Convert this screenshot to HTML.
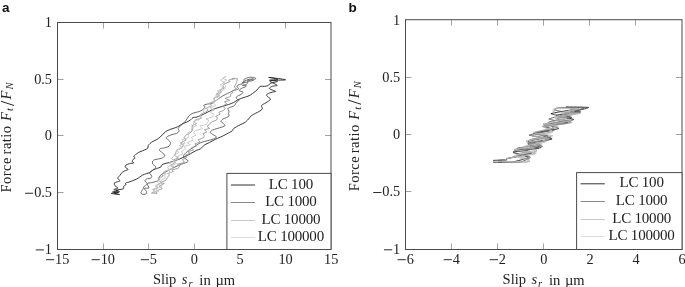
<!DOCTYPE html>
<html><head><meta charset="utf-8"><style>
html,body{margin:0;padding:0;background:#fff;}
svg{display:block;will-change:transform;}
.tl text{font-family:"Liberation Serif",serif;font-size:14.3px;fill:#222;}
.lab{font-family:"Liberation Serif",serif;fill:#222;}
.lg{font-family:"Liberation Serif",serif;font-size:15px;letter-spacing:-0.2px;fill:#222;}
.pl{font-family:"Liberation Sans",sans-serif;font-size:13.5px;font-weight:bold;fill:#111;}
</style></head><body>
<svg width="685" height="287" viewBox="0 0 685 287">
<text class="pl" x="2" y="11.5">a</text>
<text class="pl" x="348.5" y="12.2">b</text>
<path d="M119.5 194.6 C118.1 194.4 111.4 193.7 111.2 193.4 C111.0 193.1 118.3 192.8 118.5 192.6 C118.7 192.4 112.5 192.3 112.5 192.0 C112.5 191.7 118.0 191.2 118.2 190.8 C118.4 190.4 113.8 190.0 113.8 189.6 C113.8 189.2 117.7 188.8 117.9 188.2 C118.1 187.5 115.6 186.5 115.0 185.7 C114.4 184.8 114.1 183.7 114.3 183.1 C114.5 182.5 115.5 182.5 116.4 182.1 C117.4 181.7 119.8 181.3 120.0 180.7 C120.2 180.1 117.7 179.2 117.7 178.3 C117.7 177.4 119.0 176.5 119.8 175.5 C120.6 174.5 121.6 172.9 122.5 172.1 C123.4 171.3 124.4 171.2 125.3 170.7 C126.2 170.2 128.1 169.9 128.1 169.3 C128.1 168.7 125.6 167.9 125.3 167.2 C125.0 166.5 125.3 165.7 126.0 165.1 C126.7 164.5 128.2 164.0 129.5 163.7 C130.8 163.3 133.2 163.3 133.7 163.0 C134.2 162.7 132.4 162.2 132.3 161.6 C132.2 161.0 132.5 160.1 133.0 159.5 C133.5 158.9 135.0 158.6 135.1 158.1 C135.2 157.6 133.7 157.2 133.7 156.7 C133.7 156.2 134.5 155.9 135.1 155.3 C135.7 154.7 136.4 153.8 137.2 153.2 C138.0 152.6 138.7 152.4 140.0 151.8 C141.3 151.2 143.5 150.4 144.8 149.8 C146.1 149.2 147.0 149.1 147.6 148.4 C148.2 147.7 147.9 146.4 148.3 145.6 C148.7 144.8 149.2 144.2 150.0 143.5 C150.8 142.8 151.8 142.1 153.0 141.4 C154.2 140.7 155.9 140.0 157.1 139.3 C158.3 138.6 159.0 138.1 160.2 137.0 C161.4 135.9 162.9 134.1 164.1 133.0 C165.3 131.9 165.9 131.4 167.2 130.7 C168.5 130.0 170.6 129.3 172.0 128.8 C173.4 128.3 174.7 128.0 175.9 127.5 C177.1 127.0 177.8 126.7 179.0 126.0 C180.2 125.3 181.6 124.2 182.9 123.6 C184.2 122.9 185.5 122.8 186.8 122.1 C188.1 121.4 189.8 120.5 190.8 119.7 C191.9 118.9 192.2 117.8 193.1 117.4 C193.9 117.0 194.5 117.7 195.9 117.3 C197.3 116.9 199.6 116.0 201.5 115.2 C203.4 114.4 205.2 113.3 207.1 112.4 C208.9 111.5 210.8 110.4 212.6 109.6 C214.4 108.8 216.2 108.3 218.0 107.7 C219.8 107.1 221.4 106.6 223.2 106.1 C224.9 105.6 226.8 105.1 228.5 104.5 C230.2 103.9 232.1 103.3 233.7 102.5 C235.3 101.7 236.3 100.6 237.9 99.8 C239.5 99.0 241.4 98.3 243.1 97.7 C244.8 97.1 246.4 96.9 248.0 96.2 C249.6 95.5 251.0 94.6 252.6 93.5 C254.2 92.4 256.1 90.8 257.3 89.6 C258.5 88.4 259.1 87.0 260.0 86.5 C260.9 86.0 261.4 86.3 262.4 86.3 C263.4 86.2 265.0 86.5 266.2 86.2 C267.4 85.9 268.5 85.1 269.3 84.6 C270.1 84.1 269.5 83.6 270.9 83.1 C272.3 82.5 277.7 81.8 277.5 81.3 C277.3 80.8 269.4 80.5 269.5 80.2 C269.6 79.9 278.1 79.8 278.0 79.3 C277.9 78.8 267.6 77.3 268.8 77.4 C270.1 77.5 284.2 79.2 285.5 79.7 C286.8 80.2 279.2 80.0 276.6 80.3 C274.0 80.5 269.9 80.4 270.0 81.2 C270.1 82.0 276.8 84.5 277.2 85.3 C277.6 86.1 273.8 85.7 272.5 86.2 C271.2 86.7 269.4 87.7 269.3 88.3 C269.2 88.9 270.8 89.4 271.9 89.9 C272.9 90.4 275.8 91.0 275.6 91.4 C275.4 91.8 272.4 92.0 270.9 92.5 C269.4 93.0 267.2 93.9 266.7 94.6 C266.2 95.3 267.1 95.9 267.7 96.7 C268.3 97.5 270.7 98.3 270.4 99.3 C270.1 100.3 267.4 101.8 265.9 102.8 C264.4 103.8 262.2 104.5 261.6 105.5 C261.0 106.5 262.8 107.9 262.4 108.9 C261.9 109.9 260.0 110.9 258.9 111.6 C257.8 112.3 256.8 112.6 255.5 113.3 C254.2 114.0 252.1 115.1 251.1 115.9 C250.1 116.7 250.4 117.0 249.4 118.0 C248.4 119.0 246.9 121.1 245.3 122.2 C243.8 123.3 242.0 123.8 240.1 124.8 C238.2 125.8 235.0 127.5 233.7 128.5 C232.4 129.5 233.3 130.0 232.1 130.9 C230.9 131.8 228.6 133.0 226.7 134.0 C224.8 135.0 222.4 136.2 220.4 137.1 C218.4 138.0 216.7 138.6 214.9 139.5 C213.1 140.4 211.1 141.7 209.4 142.6 C207.7 143.5 206.2 143.8 204.7 144.8 C203.2 145.8 201.8 147.9 200.5 148.8 C199.2 149.7 198.2 149.6 196.9 150.2 C195.6 150.8 194.5 151.4 192.9 152.3 C191.3 153.2 189.2 154.5 187.4 155.4 C185.6 156.3 183.9 157.2 182.0 158.0 C180.1 158.8 177.8 159.7 175.7 160.4 C173.6 161.2 171.2 162.0 169.4 162.5 C167.6 163.0 166.4 163.1 165.1 163.5 C163.8 163.9 162.3 164.6 161.6 165.2 C160.9 165.8 161.7 166.3 160.9 166.9 C160.1 167.5 157.9 168.1 156.6 168.6 C155.3 169.1 154.2 169.3 153.0 170.0 C151.8 170.7 150.5 172.0 149.4 172.6 C148.3 173.2 147.8 173.2 146.6 173.6 C145.4 174.0 143.7 174.4 142.3 175.2 C140.9 176.0 139.2 177.6 138.0 178.3 C136.8 179.1 136.3 179.1 135.0 179.7 C133.7 180.3 131.6 181.1 130.0 181.7 C128.4 182.3 126.4 182.5 125.7 183.1 C125.0 183.7 126.1 184.4 125.7 185.0 C125.3 185.6 123.9 185.8 123.6 186.4 C123.2 187.0 124.2 188.1 123.6 188.6 C123.0 189.1 121.3 189.2 120.0 189.5 C118.7 189.8 116.1 189.9 116.0 190.3 C115.9 190.7 119.8 191.4 119.5 191.8 C119.2 192.2 114.0 192.3 114.0 192.8 C114.0 193.3 118.6 194.3 119.5 194.6" fill="none" stroke="#222" stroke-width="0.9" stroke-linejoin="round"/>
<path d="M142.3 194.3 C142.1 194.1 140.9 193.7 140.9 192.9 C140.9 192.1 142.2 190.4 142.6 189.7 C143.0 189.0 143.0 189.1 143.2 188.6 C143.4 188.1 143.3 187.3 143.7 186.8 C144.1 186.3 144.9 186.2 145.5 185.7 C146.1 185.2 147.1 184.6 147.2 184.0 C147.3 183.4 146.4 182.8 146.0 182.2 C145.6 181.6 144.7 181.1 144.9 180.5 C145.1 179.9 146.2 179.2 147.2 178.8 C148.1 178.4 149.8 178.6 150.6 178.2 C151.4 177.8 151.9 177.3 151.8 176.5 C151.7 175.7 150.5 174.2 150.1 173.6 C149.7 173.0 148.9 173.5 149.4 172.9 C149.9 172.3 151.9 171.0 153.0 170.0 C154.1 169.0 155.9 168.0 155.9 167.1 C155.9 166.2 153.6 165.2 153.0 164.4 C152.4 163.6 152.3 162.7 152.4 162.0 C152.5 161.3 152.9 160.7 153.5 160.3 C154.1 159.9 154.7 159.7 156.0 159.4 C157.3 159.1 159.8 158.9 161.3 158.3 C162.8 157.7 164.7 156.6 164.8 155.7 C165.0 154.8 163.1 153.5 162.2 152.6 C161.3 151.7 159.9 151.2 159.6 150.5 C159.3 149.8 159.6 149.0 160.5 148.6 C161.4 148.2 163.4 148.2 164.8 147.8 C166.2 147.4 168.2 147.0 169.2 146.1 C170.1 145.2 170.7 143.6 170.5 142.6 C170.3 141.6 169.1 140.8 168.3 140.0 C167.6 139.2 166.1 138.6 166.0 138.0 C165.9 137.4 167.0 136.8 168.0 136.2 C169.0 135.6 170.4 135.1 172.0 134.6 C173.6 134.1 176.2 133.7 177.4 133.0 C178.6 132.3 178.9 131.5 179.0 130.7 C179.1 129.9 177.8 129.2 178.2 128.3 C178.6 127.4 180.3 126.2 181.5 125.0 C182.7 123.8 184.3 122.5 185.5 121.0 C186.7 119.5 187.6 117.2 188.9 115.9 C190.2 114.6 191.5 113.8 193.1 113.1 C194.7 112.4 197.1 112.3 198.7 111.7 C200.3 111.1 201.8 110.4 202.9 109.6 C204.0 108.8 204.9 107.5 205.0 106.8 C205.1 106.1 203.2 106.0 203.6 105.5 C203.9 105.0 205.7 104.4 207.1 104.1 C208.5 103.8 210.6 103.9 211.9 103.4 C213.2 103.0 214.0 102.1 215.0 101.4 C216.0 100.7 216.8 99.9 218.1 99.0 C219.4 98.1 221.2 96.8 222.8 95.9 C224.4 95.0 226.2 94.2 227.5 93.5 C228.8 92.8 229.6 92.5 230.7 92.0 C231.8 91.5 232.5 90.9 233.8 90.4 C235.1 89.9 238.0 89.5 238.5 88.8 C239.0 88.1 237.0 87.2 237.0 86.5 C237.0 85.8 237.5 85.4 238.5 84.9 C239.5 84.4 242.3 84.1 243.2 83.3 C244.1 82.5 243.8 80.9 244.0 80.2 C244.2 79.5 243.3 79.8 244.3 79.3 C245.3 78.8 247.9 77.3 249.8 77.2 C251.7 77.1 255.5 77.8 255.8 78.4 C256.2 79.0 253.4 80.2 251.9 80.7 C250.4 81.2 246.8 81.4 247.1 81.1 C247.4 80.8 253.3 79.2 253.5 79.0 C253.7 78.8 249.9 79.0 248.0 79.6 C246.1 80.2 242.2 82.4 242.2 82.8 C242.2 83.2 247.1 81.9 247.8 82.1 C248.5 82.3 247.3 83.7 246.4 84.2 C245.5 84.8 242.5 85.1 242.5 85.4 C242.5 85.7 246.0 85.5 246.4 85.8 C246.8 86.1 245.9 86.5 245.0 87.0 C244.1 87.5 241.7 88.1 240.8 88.7 C239.9 89.3 239.1 90.3 239.4 90.8 C239.8 91.3 242.6 91.4 242.9 91.9 C243.2 92.5 242.2 93.5 241.5 94.1 C240.8 94.7 239.3 95.2 238.4 95.7 C237.5 96.2 236.5 96.6 236.3 97.2 C236.1 97.8 236.9 98.8 237.3 99.3 C237.7 99.8 239.1 99.9 238.9 100.4 C238.7 100.9 236.9 101.8 236.3 102.5 C235.7 103.2 235.6 103.9 235.2 104.5 C234.8 105.1 234.5 105.6 233.7 106.1 C232.9 106.5 231.5 106.8 230.5 107.2 C229.5 107.6 228.2 108.0 227.9 108.7 C227.7 109.4 228.9 110.5 229.0 111.3 C229.1 112.1 228.5 112.6 228.5 113.4 C228.5 114.2 229.3 115.3 229.0 116.0 C228.7 116.7 227.5 117.1 226.4 117.6 C225.3 118.1 223.6 118.6 222.7 119.2 C221.8 119.8 221.1 120.7 221.1 121.3 C221.1 121.9 222.0 122.3 222.7 123.0 C223.4 123.7 225.2 124.7 225.1 125.4 C225.0 126.1 223.3 126.5 222.0 127.0 C220.7 127.5 218.8 128.0 217.2 128.5 C215.6 129.0 213.7 129.4 212.5 130.1 C211.3 130.8 210.1 131.6 210.2 132.4 C210.3 133.2 212.2 134.0 213.3 134.8 C214.4 135.6 216.7 136.3 216.5 137.1 C216.3 137.9 213.4 138.9 212.0 139.5 C210.6 140.1 209.7 140.1 207.9 140.6 C206.1 141.1 203.1 141.7 201.1 142.5 C199.1 143.3 197.8 144.3 196.0 145.5 C194.2 146.7 191.8 148.2 190.0 149.5 C188.2 150.8 186.2 152.2 185.1 153.5 C184.0 154.8 183.0 155.9 183.5 157.2 C184.0 158.5 188.5 160.0 188.2 161.2 C187.9 162.4 183.5 163.3 181.5 164.2 C179.5 165.1 177.8 165.7 176.0 166.5 C174.2 167.3 172.8 168.1 171.0 169.0 C169.2 169.9 167.2 171.0 165.5 172.0 C163.8 173.0 162.1 173.9 161.0 174.8 C159.9 175.7 159.3 176.7 159.0 177.5 C158.7 178.3 159.8 178.9 159.2 179.6 C158.6 180.3 157.0 181.1 155.7 181.6 C154.4 182.1 152.9 182.2 151.5 182.6 C150.1 182.9 147.7 182.8 147.3 183.7 C146.9 184.6 149.4 187.1 148.9 187.9 C148.4 188.7 144.6 187.8 144.2 188.4 C143.8 189.0 146.2 190.6 146.5 191.5 C146.8 192.4 146.6 193.5 145.9 194.0 C145.2 194.5 142.9 194.2 142.3 194.3" fill="none" stroke="#5a5a5a" stroke-width="0.9" stroke-linejoin="round"/>
<path d="M151.5 193.0 L154.6 191.2 L152.8 189.4 L157.6 187.7 L156.3 185.4 L161.4 182.5 L158.3 180.2 L158.3 177.8 L163.0 176.3 L161.8 174.1 L163.2 173.2 L164.8 171.4 L171.3 168.9 L173.5 166.6 L170.9 165.1 L175.7 162.1 L173.3 159.9 L178.0 157.9 L174.5 155.4 L175.9 152.2 L176.4 150.4 L182.4 147.2 L183.5 144.8 L180.3 143.0 L186.3 139.9 L183.8 137.9 L185.5 135.4 L190.2 132.8 L192.3 130.7 L192.9 127.9 L191.9 125.7 L196.7 123.7 L193.9 121.8 L195.5 119.9 L201.6 118.1 L199.4 116.1 L201.1 113.9 L206.1 111.8 L208.2 110.0 L206.3 108.1 L211.7 105.8 L209.3 103.3 L214.6 101.2 L213.9 98.1 L219.6 95.8 L216.5 93.8 L221.6 91.9 L219.9 89.9 L224.1 88.1 L222.9 85.7 L224.5 83.7 L230.2 81.6 L228.4 80.3 L234.4 78.1 L231.9 79.1 L237.4 78.6 L236.6 82.3 L235.8 84.1 L234.2 87.0 L236.5 88.6 L232.7 90.7 L232.7 92.9 L230.8 94.0 L230.5 96.5 L225.2 98.4 L229.7 100.3 L224.4 101.8 L226.6 103.6 L222.5 106.3 L225.2 108.2 L223.8 110.4 L218.9 112.2 L220.2 114.2 L215.6 116.4 L217.6 117.8 L216.2 120.3 L211.3 122.0 L209.6 124.3 L207.0 126.3 L209.7 128.4 L204.5 129.8 L206.8 132.0 L202.9 133.6 L204.3 135.6 L203.7 137.6 L198.1 139.8 L200.1 142.1 L194.9 143.8 L196.6 146.2 L191.8 147.7 L193.5 150.0 L187.7 151.6 L190.2 153.2 L185.3 155.2 L186.8 157.4 L182.5 159.6 L184.5 162.4 L177.5 164.3 L179.8 165.6 L178.1 168.4 L171.9 169.9 L173.3 171.4 L168.7 173.3 L169.2 175.1 L167.4 177.5 L165.8 180.3 L160.6 182.5 L164.3 183.5 L159.1 186.2 L162.3 188.6 L157.4 190.5 L155.5 191.4 L157.0 193.3 L151.5 193.0" fill="none" stroke="#9a9a9a" stroke-width="0.9" stroke-linejoin="round"/>
<path d="M153.0 194.0 L155.6 191.7 L153.8 190.0 L157.2 188.0 L155.2 185.6 L159.8 184.3 L157.6 182.1 L158.5 179.4 L160.8 177.4 L165.3 174.1 L163.6 171.7 L169.4 169.5 L167.5 166.9 L172.1 164.9 L169.2 163.0 L174.8 161.2 L171.8 159.0 L172.8 156.8 L175.0 154.7 L178.8 152.5 L176.6 150.5 L182.4 147.8 L179.3 145.4 L185.1 143.1 L181.9 139.6 L187.8 138.2 L188.9 135.2 L187.9 133.0 L191.9 130.2 L191.0 128.1 L196.4 125.6 L193.4 124.1 L194.2 121.1 L199.7 119.4 L201.0 116.7 L199.9 115.0 L204.5 112.5 L203.0 111.1 L204.2 109.0 L210.1 106.6 L212.0 105.4 L209.6 102.9 L215.1 100.6 L212.9 98.7 L216.8 96.5 L215.7 94.9 L220.4 93.1 L217.5 90.8 L221.3 89.3 L222.8 87.0 L220.2 84.8 L224.4 82.7 L220.4 80.0 L226.2 76.3 L222.8 78.4 L226.9 80.1 L223.1 82.5 L225.6 85.7 L225.1 88.4 L223.4 90.2 L218.1 91.9 L220.1 93.8 L215.6 96.5 L219.0 98.5 L217.1 100.1 L212.9 102.5 L215.8 105.5 L210.1 107.9 L214.3 110.1 L209.9 111.8 L213.5 114.2 L212.7 116.9 L206.1 119.0 L208.6 120.2 L208.2 121.9 L206.4 124.5 L199.8 126.0 L202.4 128.7 L195.4 130.7 L193.6 132.7 L195.9 135.1 L191.2 137.6 L193.5 139.9 L187.3 142.7 L190.2 144.7 L184.1 146.5 L185.7 148.8 L181.3 151.6 L183.0 153.8 L177.4 156.6 L179.6 158.4 L173.7 161.0 L176.6 163.7 L170.6 165.7 L173.2 168.0 L167.8 170.4 L170.8 172.4 L165.0 174.4 L164.4 175.6 L165.5 177.7 L160.9 180.3 L160.7 182.2 L162.3 184.4 L161.4 186.5 L157.1 188.5 L156.7 189.9 L158.6 191.7 L152.8 192.5 L153.0 194.0" fill="none" stroke="#c4c4c4" stroke-width="0.9" stroke-linejoin="round"/>
<path d="M493.0 160.4 C494.1 160.3 505.4 160.0 506.6 159.8 C507.8 159.6 505.1 159.1 507.2 158.5 C509.3 157.9 531.2 153.7 532.0 152.9 C532.9 152.0 516.4 149.0 517.1 148.3 C517.7 147.7 539.0 145.4 540.1 144.7 C541.1 144.0 529.4 140.5 530.1 139.8 C530.8 139.1 547.6 137.0 548.0 136.4 C548.4 135.9 534.6 133.7 535.0 133.0 C535.4 132.3 551.9 128.9 553.0 128.0 C554.1 127.1 546.9 123.1 548.5 122.2 C550.0 121.3 571.3 118.0 571.5 117.3 C571.7 116.6 550.6 114.4 550.9 113.7 C551.2 113.0 573.8 109.7 575.1 109.1 C576.3 108.6 564.9 107.1 566.0 107.0 C567.1 106.9 587.9 107.1 588.6 107.5 C589.3 107.9 575.3 111.1 574.6 111.5 C573.9 111.9 581.9 111.7 580.4 112.0 C578.8 112.3 556.5 114.6 556.0 115.2 C555.4 115.9 574.3 118.8 573.7 119.6 C573.1 120.3 550.1 123.4 548.8 124.1 C547.6 124.9 559.7 127.9 558.5 128.6 C557.3 129.4 535.2 132.2 534.6 133.0 C534.1 133.9 552.6 137.9 552.1 138.9 C551.5 139.8 529.3 143.5 528.1 144.3 C527.0 145.1 540.0 147.6 538.8 148.3 C537.6 148.9 514.1 151.4 513.2 152.2 C512.3 153.0 528.5 156.6 528.4 157.4 C528.3 158.2 515.0 161.6 512.0 162.0 C509.0 162.4 494.6 162.2 493.0 162.2" fill="none" stroke="#222" stroke-width="0.9" stroke-linejoin="round"/>
<path d="M498.0 160.4 C498.7 160.3 505.8 160.0 506.6 159.8 C507.4 159.6 505.8 159.0 507.6 158.5 C509.5 158.0 528.6 154.2 529.1 153.6 C529.7 152.9 513.6 151.0 514.7 150.4 C515.8 149.8 541.3 147.2 542.4 146.5 C543.5 145.7 527.2 142.3 527.9 141.5 C528.6 140.7 550.7 137.5 551.1 136.8 C551.6 136.1 532.8 133.9 533.2 133.3 C533.5 132.7 554.4 130.3 555.2 129.7 C556.0 129.1 541.6 126.9 542.6 126.4 C543.7 125.8 567.5 123.6 568.0 123.0 C568.5 122.4 548.6 119.7 548.8 119.0 C548.9 118.2 569.2 114.3 569.8 113.5 C570.4 112.8 556.4 110.7 555.5 110.2 C554.7 109.7 557.6 107.7 560.0 107.5 C562.4 107.3 583.2 107.6 584.0 108.0 C584.8 108.4 570.5 111.6 570.0 112.0 C569.5 112.4 579.5 112.0 578.5 112.5 C577.4 113.0 558.1 117.5 557.4 118.3 C556.7 119.1 571.6 121.2 570.5 121.8 C569.4 122.3 545.7 124.6 544.2 125.3 C542.7 126.0 554.0 129.3 552.8 130.1 C551.5 130.9 529.3 134.4 529.2 135.1 C529.0 135.9 551.6 138.1 551.5 138.8 C551.4 139.4 528.5 142.2 527.7 143.0 C526.8 143.7 542.2 147.0 541.0 147.7 C539.8 148.5 513.9 151.2 513.0 151.9 C512.1 152.7 529.8 156.2 530.4 157.0 C531.0 157.9 522.7 161.6 520.0 162.0 C517.3 162.4 499.8 162.2 498.0 162.2" fill="none" stroke="#5a5a5a" stroke-width="0.9" stroke-linejoin="round"/>
<path d="M502.0 160.4 C502.3 160.3 505.5 160.0 506.0 159.8 C506.5 159.6 505.3 159.0 507.8 158.5 C510.2 158.0 535.1 154.2 535.6 153.5 C536.2 152.8 514.2 150.5 514.3 149.9 C514.4 149.3 535.8 147.0 536.7 146.3 C537.7 145.6 525.2 142.0 526.1 141.2 C526.9 140.4 546.2 137.3 546.9 136.6 C547.6 135.9 533.2 133.4 534.2 132.6 C535.2 131.9 557.6 127.9 558.3 127.2 C559.0 126.5 542.0 124.6 543.1 124.0 C544.2 123.5 570.9 121.2 571.8 120.5 C572.8 119.8 556.0 116.2 554.7 115.2 C553.4 114.1 554.0 108.6 556.0 108.0 C558.0 107.4 578.2 108.1 579.0 108.5 C579.8 108.9 564.9 112.1 565.0 112.5 C565.1 112.9 581.4 112.5 580.6 113.0 C579.8 113.5 556.1 117.9 555.4 118.7 C554.7 119.5 572.5 121.9 571.7 122.6 C570.8 123.2 546.8 126.3 545.2 127.0 C543.7 127.8 554.0 131.0 552.9 131.7 C551.8 132.4 532.4 135.1 532.1 135.8 C531.8 136.5 549.4 139.0 549.0 139.8 C548.6 140.6 528.3 144.3 527.3 145.2 C526.2 146.1 537.7 150.1 536.8 151.0 C535.9 151.9 517.0 155.0 516.3 155.6 C515.6 156.3 527.9 158.6 528.8 159.2 C529.7 159.7 529.2 161.7 527.0 162.0 C524.8 162.3 504.1 162.2 502.0 162.2" fill="none" stroke="#999" stroke-width="0.9" stroke-linejoin="round"/>
<path d="M505.0 159.9 C505.0 159.8 505.2 159.5 505.5 159.3 C505.9 159.1 506.4 158.5 509.0 158.0 C511.6 157.5 535.9 153.8 536.4 153.1 C536.8 152.4 514.1 150.0 514.6 149.2 C515.1 148.5 540.9 144.8 542.2 144.1 C543.4 143.3 528.5 140.8 529.4 140.1 C530.3 139.4 552.4 136.5 552.8 135.9 C553.2 135.2 533.5 133.2 533.8 132.4 C534.1 131.7 555.5 127.6 556.5 126.8 C557.6 126.0 546.0 123.7 546.9 123.0 C547.7 122.3 566.0 118.9 566.6 118.1 C567.2 117.3 555.1 114.3 554.1 113.5 C553.0 112.7 552.3 108.9 554.0 108.5 C555.7 108.1 574.4 108.6 575.0 109.0 C575.6 109.4 560.7 112.6 561.0 113.0 C561.3 113.4 579.8 113.2 579.2 113.5 C578.6 113.8 554.6 116.4 553.9 117.0 C553.1 117.6 571.3 119.6 570.4 120.4 C569.6 121.1 545.1 125.2 543.6 126.1 C542.1 127.1 553.4 131.1 552.8 132.0 C552.1 132.9 536.2 135.9 535.6 136.8 C535.1 137.6 547.2 141.0 546.2 141.8 C545.2 142.6 524.5 145.8 523.6 146.5 C522.7 147.2 535.9 149.4 535.2 150.1 C534.4 150.9 514.9 154.7 514.5 155.7 C514.0 156.6 530.8 161.0 530.0 161.5 C529.2 162.0 507.1 161.7 505.0 161.7" fill="none" stroke="#bbb" stroke-width="0.9" stroke-linejoin="round"/>
<path d="M103.50 249.5V243.5M103.50 22.5V28.5M148.50 249.5V243.5M148.50 22.5V28.5M194.50 249.5V243.5M194.50 22.5V28.5M239.50 249.5V243.5M239.50 22.5V28.5M285.50 249.5V243.5M285.50 22.5V28.5M57.5 79.50H63.5M331.0 79.50H325.0M57.5 135.50H63.5M331.0 135.50H325.0M57.5 192.50H63.5M331.0 192.50H325.0" stroke="#999" stroke-width="0.9" fill="none"/><rect x="57.5" y="22.5" width="273.50" height="227.00" fill="none" stroke="#4a4a4a" stroke-width="1"/><g class="tl"><rect x="46.00" y="259.23" width="8.2" height="0.95" fill="#222"/><text x="55.10" y="263.6">15</text><rect x="91.58" y="259.23" width="8.2" height="0.95" fill="#222"/><text x="100.68" y="263.6">10</text><rect x="140.74" y="259.23" width="8.2" height="0.95" fill="#222"/><text x="149.84" y="263.6">5</text><text x="194.45" y="263.6" text-anchor="middle">0</text><text x="240.03" y="263.6" text-anchor="middle">5</text><text x="285.62" y="263.6" text-anchor="middle">10</text><text x="331.20" y="263.6" text-anchor="middle">15</text><text x="52.0" y="27.10" text-anchor="end">1</text><text x="52.0" y="83.77" text-anchor="end">0.5</text><text x="52.0" y="140.45" text-anchor="end">0</text><text x="52.0" y="197.12" text-anchor="end">0.5</text><rect x="25.03" y="192.75" width="8.2" height="0.95" fill="#222"/><text x="52.0" y="253.80" text-anchor="end">1</text><rect x="35.75" y="249.42" width="8.2" height="0.95" fill="#222"/></g>
<path d="M451.50 249.5V243.5M451.50 19.7V25.7M497.50 249.5V243.5M497.50 19.7V25.7M543.50 249.5V243.5M543.50 19.7V25.7M589.50 249.5V243.5M589.50 19.7V25.7M635.50 249.5V243.5M635.50 19.7V25.7M405.5 77.50H411.5M682.0 77.50H676.0M405.5 134.50H411.5M682.0 134.50H676.0M405.5 191.50H411.5M682.0 191.50H676.0" stroke="#999" stroke-width="0.9" fill="none"/><rect x="405.5" y="19.7" width="276.50" height="229.80" fill="none" stroke="#4a4a4a" stroke-width="1"/><g class="tl"><rect x="397.57" y="259.23" width="8.2" height="0.95" fill="#222"/><text x="406.67" y="263.6">6</text><rect x="443.66" y="259.23" width="8.2" height="0.95" fill="#222"/><text x="452.76" y="263.6">4</text><rect x="489.74" y="259.23" width="8.2" height="0.95" fill="#222"/><text x="498.84" y="263.6">2</text><text x="543.95" y="263.6" text-anchor="middle">0</text><text x="590.03" y="263.6" text-anchor="middle">2</text><text x="636.12" y="263.6" text-anchor="middle">4</text><text x="682.20" y="263.6" text-anchor="middle">6</text><text x="400.2" y="24.50" text-anchor="end">1</text><text x="400.2" y="81.80" text-anchor="end">0.5</text><text x="400.2" y="139.10" text-anchor="end">0</text><text x="400.2" y="196.40" text-anchor="end">0.5</text><rect x="373.23" y="192.03" width="8.2" height="0.95" fill="#222"/><text x="400.2" y="253.70" text-anchor="end">1</text><rect x="383.95" y="249.32" width="8.2" height="0.95" fill="#222"/></g>
<rect x="226.9" y="173.4" width="104.1" height="76.1" fill="#fff" stroke="#4a4a4a" stroke-width="1"/><line x1="230.9" y1="185.0" x2="255.1" y2="185.0" stroke="#333" stroke-width="1.0"/><text class="lg" x="290.9" y="188.6" text-anchor="middle">LC 100</text><line x1="230.9" y1="202.5" x2="255.1" y2="202.5" stroke="#888" stroke-width="1.0"/><text class="lg" x="290.9" y="206.1" text-anchor="middle">LC 1000</text><line x1="230.9" y1="220.5" x2="255.1" y2="220.5" stroke="#c8c8c8" stroke-width="1.0"/><text class="lg" x="290.9" y="224.1" text-anchor="middle">LC 10000</text><line x1="230.9" y1="237.5" x2="255.1" y2="237.5" stroke="#dcdcdc" stroke-width="1.0"/><text class="lg" x="290.9" y="241.1" text-anchor="middle">LC 100000</text>
<rect x="576.6" y="172.6" width="105.4" height="76.9" fill="#fff" stroke="#4a4a4a" stroke-width="1"/><line x1="580.6" y1="183.8" x2="604.8" y2="183.8" stroke="#333" stroke-width="1.0"/><text class="lg" x="641.6" y="187.4" text-anchor="middle">LC 100</text><line x1="580.6" y1="201.5" x2="604.8" y2="201.5" stroke="#888" stroke-width="1.0"/><text class="lg" x="641.6" y="205.1" text-anchor="middle">LC 1000</text><line x1="580.6" y1="219.5" x2="604.8" y2="219.5" stroke="#c8c8c8" stroke-width="1.0"/><text class="lg" x="641.6" y="223.1" text-anchor="middle">LC 10000</text><line x1="580.6" y1="236.5" x2="604.8" y2="236.5" stroke="#dcdcdc" stroke-width="1.0"/><text class="lg" x="641.6" y="240.1" text-anchor="middle">LC 100000</text>
<text class="lab" x="153.00" y="284.4" font-size="14.5">Slip</text><text class="lab" x="181.80" y="284.4" font-size="14.5" font-style="italic">s</text><text class="lab" x="188.40" y="286.6" font-size="10.5" font-style="italic">r</text><text class="lab" x="199.30" y="284.6" font-size="14.7">in</text><text class="lab" x="215.40" y="284.6" font-size="14.5">µm</text>
<text class="lab" x="502.60" y="284.4" font-size="14.5">Slip</text><text class="lab" x="531.40" y="284.4" font-size="14.5" font-style="italic">s</text><text class="lab" x="538.00" y="286.6" font-size="10.5" font-style="italic">r</text><text class="lab" x="548.90" y="284.6" font-size="14.7">in</text><text class="lab" x="565.00" y="284.6" font-size="14.5">µm</text>
<g transform="translate(11.2,192.4) rotate(-90)"><text class="lab" x="0.0" y="0" font-size="14.5" letter-spacing="0.45">Force</text><text class="lab" x="38.0" y="0" font-size="14.5" letter-spacing="0.45">ratio</text><text class="lab" x="71.5" y="0" font-size="14.5" font-style="italic">F</text><text class="lab" x="81.5" y="2.2" font-size="10.5" font-style="italic">t</text><text class="lab" x="86.5" y="2.4" font-size="18.5">/</text><text class="lab" x="93.0" y="0" font-size="14.5" font-style="italic">F</text><text class="lab" x="103.0" y="2.2" font-size="10.5" font-style="italic">N</text></g>
<g transform="translate(358.9,191.2) rotate(-90)"><text class="lab" x="0.0" y="0" font-size="14.5" letter-spacing="0.45">Force</text><text class="lab" x="38.0" y="0" font-size="14.5" letter-spacing="0.45">ratio</text><text class="lab" x="71.5" y="0" font-size="14.5" font-style="italic">F</text><text class="lab" x="81.5" y="2.2" font-size="10.5" font-style="italic">t</text><text class="lab" x="86.5" y="2.4" font-size="18.5">/</text><text class="lab" x="93.0" y="0" font-size="14.5" font-style="italic">F</text><text class="lab" x="103.0" y="2.2" font-size="10.5" font-style="italic">N</text></g>
</svg>
</body></html>
